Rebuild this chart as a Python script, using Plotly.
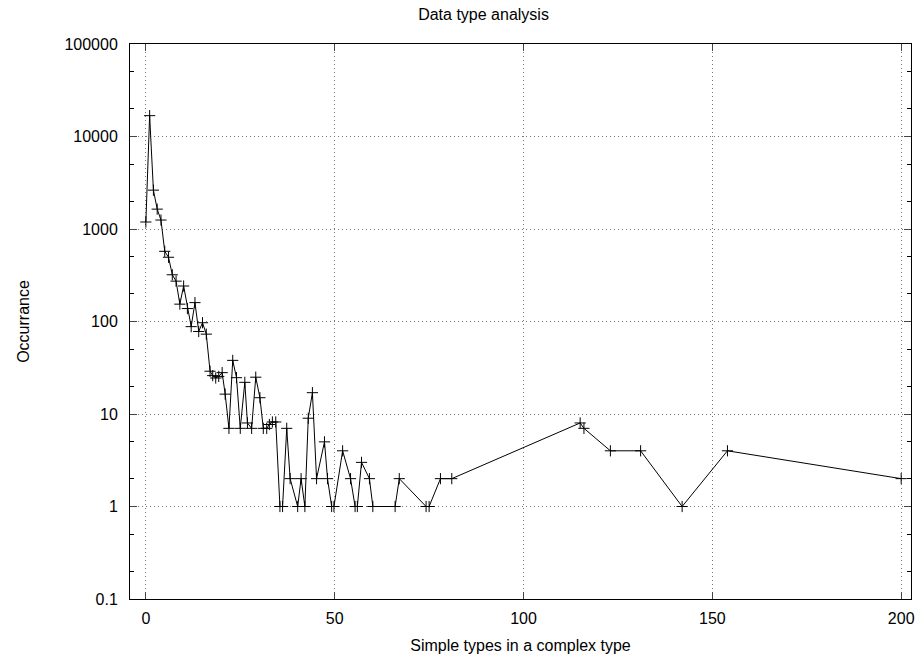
import plotly.graph_objects as go

# Simple types in a complex type (x) and occurrence (y)
simple_types = [0, 1, 2, 3, 4, 5, 6, 7, 8, 9, 10, 11, 12, 13, 14, 15, 16,
                17, 17.7, 18.5, 19.3, 20.2, 21, 22, 23, 24, 25, 26.2, 26.9, 28,
                29.1, 30.2, 31.1, 32, 32.7, 33.5, 34.4, 35.5, 36.2, 37.3, 38.2,
                40.2, 41.1, 42.1, 43, 44.1, 45.2, 47.3, 48.1, 49.2, 49.8, 52.1,
                54.2, 55.4, 56, 57.1, 59.2, 60.1, 66, 67.1, 74.2, 75, 78, 81,
                115, 116, 123, 131, 142, 154, 200]
occurrence = [1190, 16800, 2630, 1640, 1250, 574, 495, 320, 273, 154, 242, 138, 88, 160, 78, 97, 73,
              29, 26, 24.5, 25.5, 28, 16.4, 7, 38, 24.7, 7, 22, 8, 7,
              25, 15, 7, 7, 7.7, 8.2, 8.2, 1, 1, 7, 2,
              1, 2, 1, 9, 17, 2, 5, 2, 1, 1, 4,
              2, 1, 1, 3, 2, 1, 1, 2, 1, 1, 2, 2,
              8, 7, 4, 4, 1, 4, 2]

x_ticks = [0, 50, 100, 150, 200]
y_ticks = [0.1, 1, 10, 100, 1000, 10000, 100000]
y_tick_text = ["0.1", "1", "10", "100", "1000", "10000", "100000"]

fig = go.Figure()
fig.add_trace(go.Scatter(
    x=simple_types, y=occurrence, mode="lines+markers",
    line=dict(color="black", width=1),
    marker=dict(symbol="cross-thin", size=8, line=dict(color="black", width=1)),
    showlegend=False,
))

font = dict(family="Liberation Sans, Arial, sans-serif", size=16, color="black")
grid_dash = "1px,3px"
fig.update_layout(
    width=921, height=657,
    margin=dict(l=130, r=10, t=44, b=58),
    paper_bgcolor="white", plot_bgcolor="white",
    font=font,
    title=dict(text="Data type analysis", x=0.525, xanchor="center", y=0.978, yanchor="middle",
               font=dict(size=16)),
    xaxis=dict(
        range=[-4.2, 202.6], tickvals=x_ticks, ticks="inside", ticklen=7,
        tickfont=dict(size=16), ticklabelstandoff=5,
        showline=True, linecolor="black", linewidth=1, mirror="allticks",
        showgrid=True, gridcolor="#777", griddash=grid_dash, gridwidth=1,
        zeroline=False, automargin=False,
        title=dict(text="Simple types in a complex type", standoff=13, font=dict(size=16)),
    ),
    yaxis=dict(
        type="log", range=[-1, 5], tickvals=y_ticks, ticktext=y_tick_text,
        ticks="inside", ticklen=7, tickfont=dict(size=16), ticklabelstandoff=8,
        showline=True, linecolor="black", linewidth=1, mirror="allticks",
        showgrid=True, gridcolor="#777", griddash=grid_dash, gridwidth=1,
        zeroline=False, automargin=False,
        minor=dict(ticks="inside", ticklen=4, tickcolor="black", showgrid=False),
        title=dict(text="Occurrance", standoff=30, font=dict(size=16)),
    ),
)

fig.write_html("out.html", config={"displayModeBar": False},
               post_script="document.body.style.margin='0';")
